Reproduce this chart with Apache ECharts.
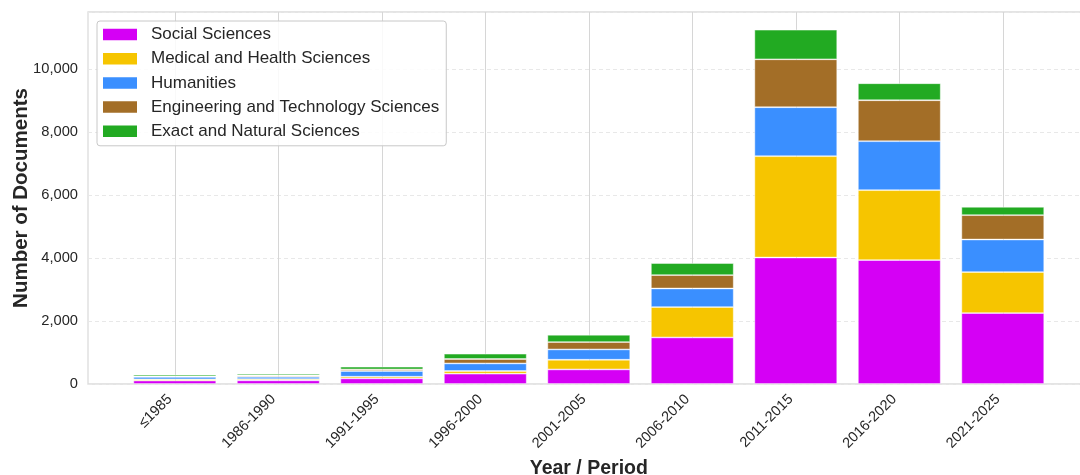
<!DOCTYPE html>
<html>
<head>
<meta charset="utf-8">
<script src="https://cdn.jsdelivr.net/npm/echarts@6/dist/echarts.min.js"></script>
<style>
html,body{margin:0;padding:0;background:#fff;}
#chart{width:1080px;height:475px;}
</style>
</head>
<body>
<div id="chart"></div>
<script>
const categories = ['≤1985','1986-1990','1991-1995','1996-2000','2001-2005','2006-2010','2011-2015','2016-2020','2021-2025'];
const socialSciences = [110, 115, 178, 327, 463, 1479, 4019, 3937, 2254];
const medicalHealth = [40, 40, 54, 86, 308, 965, 3219, 2222, 1302];
const humanities = [75, 75, 181, 241, 327, 591, 1556, 1555, 1035];
const engineeringTech = [20, 40, 50, 140, 235, 425, 1523, 1302, 774];
const exactNatural = [50, 55, 86, 168, 232, 381, 940, 540, 264];
const seriesNames = ['Social Sciences','Medical and Health Sciences','Humanities','Engineering and Technology Sciences','Exact and Natural Sciences'];
const seriesColors = ['#d500f5','#f6c500','#3a8fff','#a36e27','#22aa22'];
const yTicks = [0, 2000, 4000, 6000, 8000, 10000];
const yMax = 11820;

const font = 'Liberation Sans, Arial, sans-serif';
const seriesData = [socialSciences, medicalHealth, humanities, engineeringTech, exactNatural];

const chart = echarts.init(document.getElementById('chart'), null, {renderer:'canvas'});
const option = {
  backgroundColor: '#ffffff',
  animation: false,
  textStyle: {fontFamily: font},
  grid: [
    {left: 88, top: 12, width: 1002, bottom: 91, show: true, borderColor: '#dcdcdc', borderWidth: 1.3, backgroundColor: 'transparent', outerBoundsMode: 'none', containLabel: false},
    {left: 123.05, top: 12, width: 931.5, bottom: 91, outerBoundsMode: 'none', containLabel: false},
    {left: 174.8, top: 12, width: 828, bottom: 91, outerBoundsMode: 'none', containLabel: false}
  ],
  legend: {
    data: seriesNames,
    orient: 'vertical',
    left: 97, top: 21,
    icon: 'rect',
    itemWidth: 34, itemHeight: 11.5,
    itemGap: 7.2,
    padding: [5, 7, 6, 6],
    backgroundColor: 'rgba(255,255,255,0.85)',
    borderColor: '#c8c8c8', borderWidth: 1, borderRadius: 3,
    textStyle: {fontFamily: font, fontSize: 17, color: '#262626', padding: [0,0,0,9]},
    itemStyle: {borderWidth: 0},
    z: 10
  },
  xAxis: [
    {gridIndex: 0, type: 'value', min: 0, max: 1, show: false},
    {gridIndex: 1, type: 'category', data: categories,
      axisLine: {show: false}, axisTick: {show: false}, splitLine: {show: false},
      axisLabel: {rotate: 45, fontSize: 14.5, color: '#262626', margin: 8, fontFamily: font, interval: 0, padding: [0, 7, 0, 0]},
      name: 'Year / Period', nameLocation: 'middle', nameGap: 74,
      nameTextStyle: {fontSize: 19.5, fontWeight: 'bold', color: '#262626', fontFamily: font}
    },
    {gridIndex: 2, type: 'category', data: categories, boundaryGap: false,
      axisLine: {show: false}, axisTick: {show: false}, axisLabel: {show: false},
      splitLine: {show: true, lineStyle: {color: '#d6d6d6', width: 1, type: 'solid'}}
    }
  ],
  yAxis: [
    {gridIndex: 0, type: 'value', min: 0, max: yMax, interval: 2000,
      axisLine: {show: false}, axisTick: {show: false},
      splitLine: {show: true, lineStyle: {color: '#e8e8e8', width: 1, type: [4, 3]}},
      axisLabel: {fontSize: 14.7, color: '#262626', margin: 10, fontFamily: font, showMaxLabel: false,
        formatter: v => yTicks.indexOf(v) >= 0 ? v.toLocaleString('en-US') : ''},
      name: 'Number of Documents', nameLocation: 'middle', nameGap: 56, nameMoveOverlap: false,
      nameTextStyle: {fontSize: 20.5, fontWeight: 'bold', color: '#262626', fontFamily: font}
    },
    {gridIndex: 1, type: 'value', min: 0, max: yMax, show: false},
    {gridIndex: 2, type: 'value', min: 0, max: yMax, show: false}
  ],
  series: seriesNames.map((name, i) => ({
    name: name,
    type: 'bar',
    stack: 'total',
    xAxisIndex: 1, yAxisIndex: 1,
    barWidth: '80%',
    data: seriesData[i],
    itemStyle: {color: seriesColors[i], borderColor: 'rgba(255,255,255,0.55)', borderWidth: 0.8},
    emphasis: {disabled: true},
    z: 3
  }))
};
chart.setOption(option);
</script>
</body>
</html>
